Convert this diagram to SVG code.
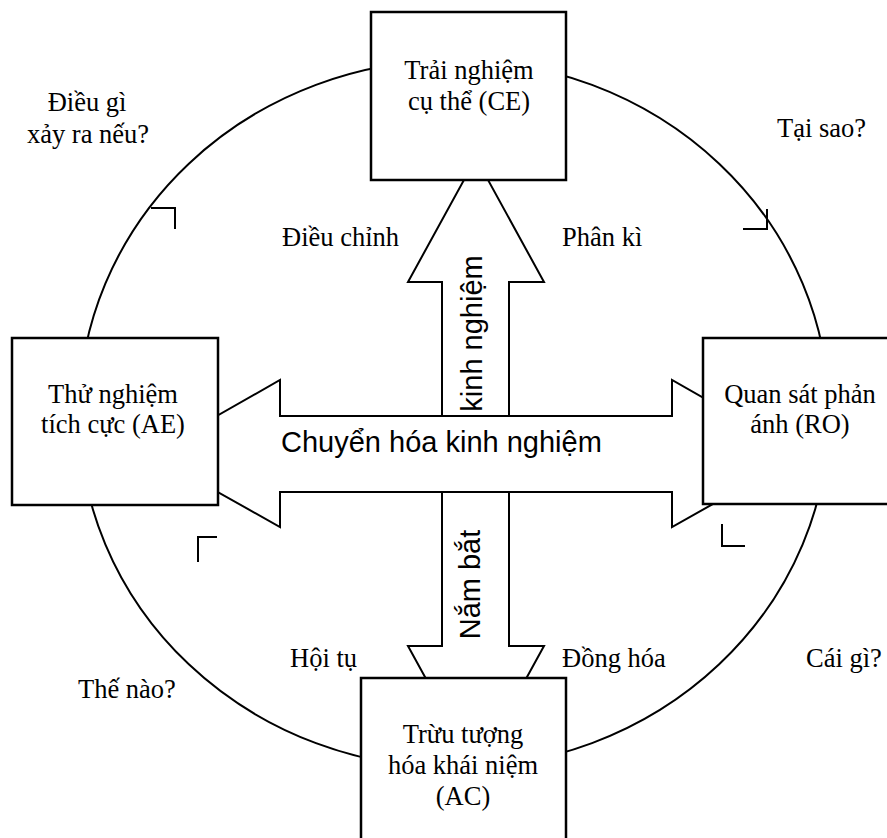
<svg xmlns="http://www.w3.org/2000/svg" width="887" height="838" viewBox="0 0 887 838">
  <style>
    .cycle { fill: none; stroke: #000; stroke-width: 2; }
    .tick { fill: none; stroke: #000; stroke-width: 2; }
    .arrow { fill: #fff; stroke: #000; stroke-width: 2; stroke-linejoin: miter; }
    .box { fill: #fff; stroke: #000; stroke-width: 2.5; }
    .serif { font-family: "Liberation Serif", "Times New Roman", serif; font-size: 26.5px; fill: #000; }
    .sans { font-family: "Liberation Sans", Arial, sans-serif; font-size: 29px; fill: #000; }
    .mid { text-anchor: middle; }
  </style>

  <rect width="887" height="838" fill="#fff"/>

  <!-- learning cycle ring and its direction ticks -->
  <g id="connectors">
    <ellipse class="cycle" cx="454" cy="414" rx="375" ry="354"/>
    <polyline class="tick" points="151,208 175,208 175,229"/>
    <polyline class="tick" points="767,209 767,229 743,229"/>
    <polyline class="tick" points="217,537 198,537 198,562"/>
    <polyline class="tick" points="722,524 722,546 745,546"/>

    <!-- central block arrows -->
    <polygon id="arrow-up" class="arrow" points="442,430 442,282 408,282 476,158 544,282 509,282 509,430"/>
    <polygon id="arrow-down" class="arrow" points="442,480 442,646 408,646 476,770 544,646 509,646 509,480"/>
    <polygon id="arrow-horizontal" class="arrow" points="150,454 280,380 280,416 672,416 672,380 802,454 672,527 672,492 280,492 280,527"/>
  </g>

  <!-- labels on the arrows -->
  <text class="sans" x="281" y="452">Chuyển hóa kinh nghiệm</text>
  <text class="sans mid" transform="translate(482,333.5) rotate(-90)">kinh nghiệm</text>
  <text class="sans mid" transform="translate(480,584.5) rotate(-90)">Nắm bắt</text>

  <!-- quadrant and question labels -->
  <text class="serif mid" x="87" y="111">Điều gì</text>
  <text class="serif mid" x="88" y="143">xảy ra nếu?</text>
  <text class="serif" x="777" y="137">Tại sao?</text>
  <text class="serif" x="282" y="246">Điều chỉnh</text>
  <text class="serif" x="562" y="246">Phân kì</text>
  <text class="serif" x="290" y="667">Hội tụ</text>
  <text class="serif" x="562" y="667">Đồng hóa</text>
  <text class="serif" x="806" y="667">Cái gì?</text>
  <text class="serif" x="78" y="698">Thế nào?</text>

  <!-- stage boxes -->
  <g id="node-ce">
    <rect class="box" x="371" y="12" width="195" height="168"/>
    <text class="serif mid" x="469" y="79">Trải nghiệm</text>
    <text class="serif mid" x="469" y="110">cụ thể (CE)</text>
  </g>
  <g id="node-ae">
    <rect class="box" x="12" y="338" width="206" height="167"/>
    <text class="serif mid" x="113" y="403">Thử nghiệm</text>
    <text class="serif mid" x="113" y="433">tích cực (AE)</text>
  </g>
  <g id="node-ro">
    <rect class="box" x="703" y="338" width="200" height="166"/>
    <text class="serif mid" x="800" y="403">Quan sát phản</text>
    <text class="serif mid" x="800" y="433">ánh (RO)</text>
  </g>
  <g id="node-ac">
    <rect class="box" x="361" y="678" width="205" height="180"/>
    <text class="serif mid" x="463" y="743">Trừu tượng</text>
    <text class="serif mid" x="463" y="774">hóa khái niệm</text>
    <text class="serif mid" x="463" y="805">(AC)</text>
  </g>
</svg>
